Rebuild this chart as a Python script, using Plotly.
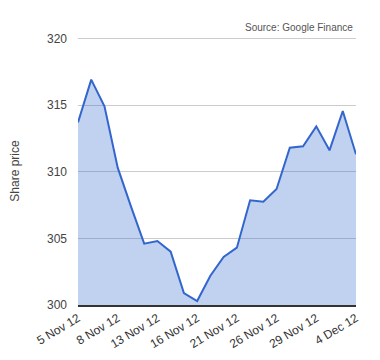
import plotly.graph_objects as go

dates = ["5 Nov 12", "6 Nov 12", "7 Nov 12", "8 Nov 12", "9 Nov 12", "12 Nov 12",
         "13 Nov 12", "14 Nov 12", "15 Nov 12", "16 Nov 12", "19 Nov 12", "20 Nov 12",
         "21 Nov 12", "22 Nov 12", "23 Nov 12", "26 Nov 12", "27 Nov 12", "28 Nov 12",
         "29 Nov 12", "30 Nov 12", "3 Dec 12", "4 Dec 12"]
prices = [313.7, 316.9, 314.9, 310.3, 307.4, 304.6, 304.8, 304.0, 300.9, 300.3, 302.2,
          303.6, 304.3, 307.85, 307.75, 308.7, 311.8, 311.9, 313.4, 311.6, 314.55, 311.3]
tick_labels = ["5 Nov 12", "8 Nov 12", "13 Nov 12", "16 Nov 12", "21 Nov 12",
               "26 Nov 12", "29 Nov 12", "4 Dec 12"]
y_ticks = [300, 305, 310, 315, 320]

fig = go.Figure()
fig.add_trace(go.Scatter(
    x=dates, y=prices, mode="lines", fill="tozeroy",
    line=dict(color="#3366cc", width=2),
    fillcolor="rgba(51,102,204,0.3)",
    hoverinfo="skip",
))

fig.update_layout(
    width=372, height=352,
    margin=dict(l=70, r=24, t=29, b=55),
    paper_bgcolor="white", plot_bgcolor="white",
    showlegend=False,
    font=dict(family="Arial, 'Liberation Sans', sans-serif", color="#444", size=12),
    xaxis=dict(
        type="category", range=[0, 21], automargin=False,
        tickmode="array", tickvals=tick_labels, ticktext=tick_labels,
        tickangle=-31, showgrid=False, showline=True, linecolor="#333",
        linewidth=1.5, ticks="", zeroline=False,
        tickfont=dict(size=12, color="#333"),
    ),
    yaxis=dict(
        range=[300, 320.1], tickvals=y_ticks, showgrid=True, gridcolor="#cccccc",
        gridwidth=1, zeroline=False, ticks="", ticklabelstandoff=10, automargin=False,
        tickfont=dict(size=12, color="#444"),
        title=dict(text="Share price", font=dict(size=12, color="#444"), standoff=24),
    ),
    annotations=[dict(
        text="Source: Google Finance", xref="paper", yref="paper",
        x=0.995, y=1.035, xanchor="right", yanchor="middle", showarrow=False,
        font=dict(size=10, color="#555"),
    )],
)

fig.write_html("out.html")
